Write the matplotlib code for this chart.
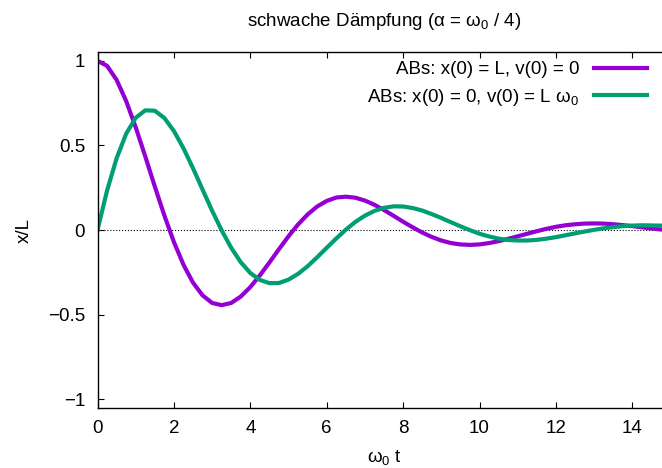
import numpy as np
import matplotlib
matplotlib.use('Agg')
import matplotlib.pyplot as plt

plt.rcParams['font.family'] = ['Liberation Sans', 'DejaVu Sans']
plt.rcParams['mathtext.fontset'] = 'custom'
plt.rcParams['mathtext.rm'] = 'Liberation Sans'
plt.rcParams['mathtext.it'] = 'Liberation Sans:italic'
plt.rcParams['font.size'] = 13.5

# Werte (Schritt 0.25 in omega_0 t)
t = [0.0, 0.25, 0.5, 0.75, 1.0, 1.25, 1.5, 1.75, 2.0, 2.25,
     2.5, 2.75, 3.0, 3.25, 3.5, 3.75, 4.0, 4.25, 4.5, 4.75,
     5.0, 5.25, 5.5, 5.75, 6.0, 6.25, 6.5, 6.75, 7.0, 7.25,
     7.5, 7.75, 8.0, 8.25, 8.5, 8.75, 9.0, 9.25, 9.5, 9.75,
     10.0, 10.25, 10.5, 10.75, 11.0, 11.25, 11.5, 11.75, 12.0, 12.25,
     12.5, 12.75, 13.0, 13.25, 13.5, 13.75, 14.0, 14.25, 14.5, 14.75,
     15.0]

# x(0) = L, v(0) = 0
x_auslenkung = [1.000, 0.970, 0.887, 0.762, 0.607, 0.435, 0.257, 0.086, -0.071, -0.205,
                -0.311, -0.386, -0.431, -0.444, -0.431, -0.393, -0.337, -0.268, -0.192, -0.113,
                -0.037, 0.033, 0.092, 0.139, 0.172, 0.192, 0.197, 0.191, 0.174, 0.149,
                0.118, 0.084, 0.049, 0.016, -0.015, -0.041, -0.062, -0.077, -0.085, -0.088,
                -0.085, -0.077, -0.066, -0.052, -0.037, -0.022, -0.007, 0.007, 0.019, 0.028,
                0.034, 0.038, 0.039, 0.038, 0.034, 0.029, 0.023, 0.016, 0.009, 0.003,
                -0.003]

# x(0) = 0, v(0) = L omega_0
x_stoss = [0.000, 0.233, 0.424, 0.569, 0.663, 0.707, 0.705, 0.662, 0.585, 0.483,
           0.365, 0.239, 0.114, -0.002, -0.105, -0.190, -0.254, -0.295, -0.314, -0.313,
           -0.293, -0.259, -0.214, -0.161, -0.105, -0.050, 0.002, 0.048, 0.085, 0.113,
           0.131, 0.140, 0.139, 0.130, 0.115, 0.094, 0.071, 0.046, 0.022, -0.001,
           -0.022, -0.038, -0.051, -0.059, -0.062, -0.062, -0.058, -0.051, -0.042, -0.031,
           -0.020, -0.009, 0.001, 0.010, 0.017, 0.023, 0.026, 0.028, 0.027, 0.026,
           0.023]

xticks = [0, 2, 4, 6, 8, 10, 12, 14]
yticks = [-1, -0.5, 0, 0.5, 1]
ytick_labels = ['\u22121', '\u22120.5', '0', '0.5', '1']

fig = plt.figure(figsize=(6.62, 4.68), dpi=100)
ax = fig.add_axes([0.1473, 0.1288, 0.8656, 0.7594])

ax.axhline(0, color='black', linestyle=':', linewidth=0.8)
ax.plot(t, x_auslenkung, color='#9400D3', linewidth=3, solid_joinstyle='round',
        label='ABs: x(0) = L, v(0) = 0')
ax.plot(t, x_stoss, color='#009E73', linewidth=3, solid_joinstyle='round',
        label='ABs: x(0) = 0, v(0) = L ω$_0$')

ax.set_xlim(0, 15)
ax.set_ylim(-1.05, 1.05)
ax.set_xticks(xticks)
ax.set_yticks(yticks)
ax.set_yticklabels(ytick_labels)
ax.tick_params(direction='in', top=True, right=True, length=4.5, width=0.8, pad=9)
for s in ax.spines.values():
    s.set_linewidth(1.0)

ax.set_xlabel('ω$_0$ t', labelpad=7.5)
ax.set_ylabel('x/L', labelpad=11)
ax.set_title('schwache Dämpfung (α = ω$_0$ / 4)', pad=19, fontsize=13.5)

ax.legend(loc='upper right', bbox_to_anchor=(0.959, 0.975), frameon=False,
          markerfirst=False, handlelength=2.85, handletextpad=0.75,
          borderpad=0, borderaxespad=0, labelspacing=0.45)

fig.savefig('out.png', dpi=100)
